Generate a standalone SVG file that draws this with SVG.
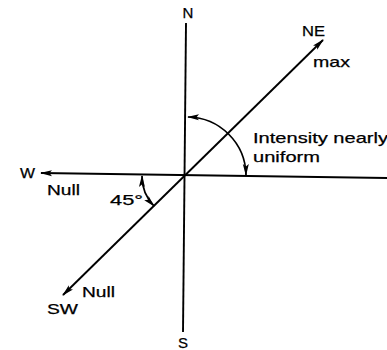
<svg xmlns="http://www.w3.org/2000/svg" width="387" height="350" viewBox="0 0 387 350">
<defs>
<marker id="ah" viewBox="0 0 12 7" refX="11" refY="3.5" markerWidth="12" markerHeight="7" markerUnits="userSpaceOnUse" orient="auto-start-reverse">
<path d="M0,0.5 L12,3.5 L0,6.5 L2.5,3.5 Z" fill="#000"/>
</marker>
</defs>
<style>
.ln{stroke:#000;stroke-width:1.9;fill:none}
.arc{stroke:#000;stroke-width:1.7;fill:none}
text{font-family:"Liberation Sans",Arial,sans-serif;fill:#000;stroke:#000;stroke-width:0.25}
.lb{font-size:15px}
</style>
<rect width="387" height="350" fill="#fff"/>
<g id="connectors">
<line id="ns" class="ln" x1="186" y1="23" x2="183" y2="332"/>
<line id="we" class="ln" x1="387" y1="178" x2="41" y2="173" marker-end="url(#ah)"/>
<line id="nesw" class="ln" x1="63" y1="295" x2="323" y2="40" marker-start="url(#ah)" marker-end="url(#ah)"/>
<path id="bigarc" class="arc" d="M188,117 A59,59 0 0 1 246,175" marker-start="url(#ah)" marker-end="url(#ah)"/>
<path id="smallarc" class="arc" d="M142,176 A43,43 0 0 0 154,206" marker-start="url(#ah)" marker-end="url(#ah)"/>
</g>
<g id="n-label"><text class="lb" x="188" y="18" text-anchor="middle">N</text></g>
<g id="s-label"><text class="lb" x="183" y="348" text-anchor="middle">S</text></g>
<g id="w-label"><text class="lb" x="20" y="178" textLength="15" lengthAdjust="spacingAndGlyphs">W</text></g>
<g id="ne-label"><text class="lb" x="302" y="36" font-size="14" textLength="23" lengthAdjust="spacingAndGlyphs">NE</text></g>
<g id="sw-label"><text class="lb" x="47" y="314" textLength="31" lengthAdjust="spacingAndGlyphs">SW</text></g>
<g id="max-label"><text class="lb" x="313" y="67" textLength="37" lengthAdjust="spacingAndGlyphs">max</text></g>
<g id="null-w"><text class="lb" x="47" y="195" textLength="33" lengthAdjust="spacingAndGlyphs">Null</text></g>
<g id="null-sw"><text class="lb" x="82" y="297" textLength="33" lengthAdjust="spacingAndGlyphs">Null</text></g>
<g id="angle-label"><text class="lb" x="110" y="205" textLength="33" lengthAdjust="spacingAndGlyphs">45°</text></g>
<g id="intensity-label">
<text class="lb" x="253" y="143" textLength="135" lengthAdjust="spacingAndGlyphs">Intensity nearly</text>
<text class="lb" x="253" y="162" textLength="67" lengthAdjust="spacingAndGlyphs">uniform</text>
</g>
</svg>
